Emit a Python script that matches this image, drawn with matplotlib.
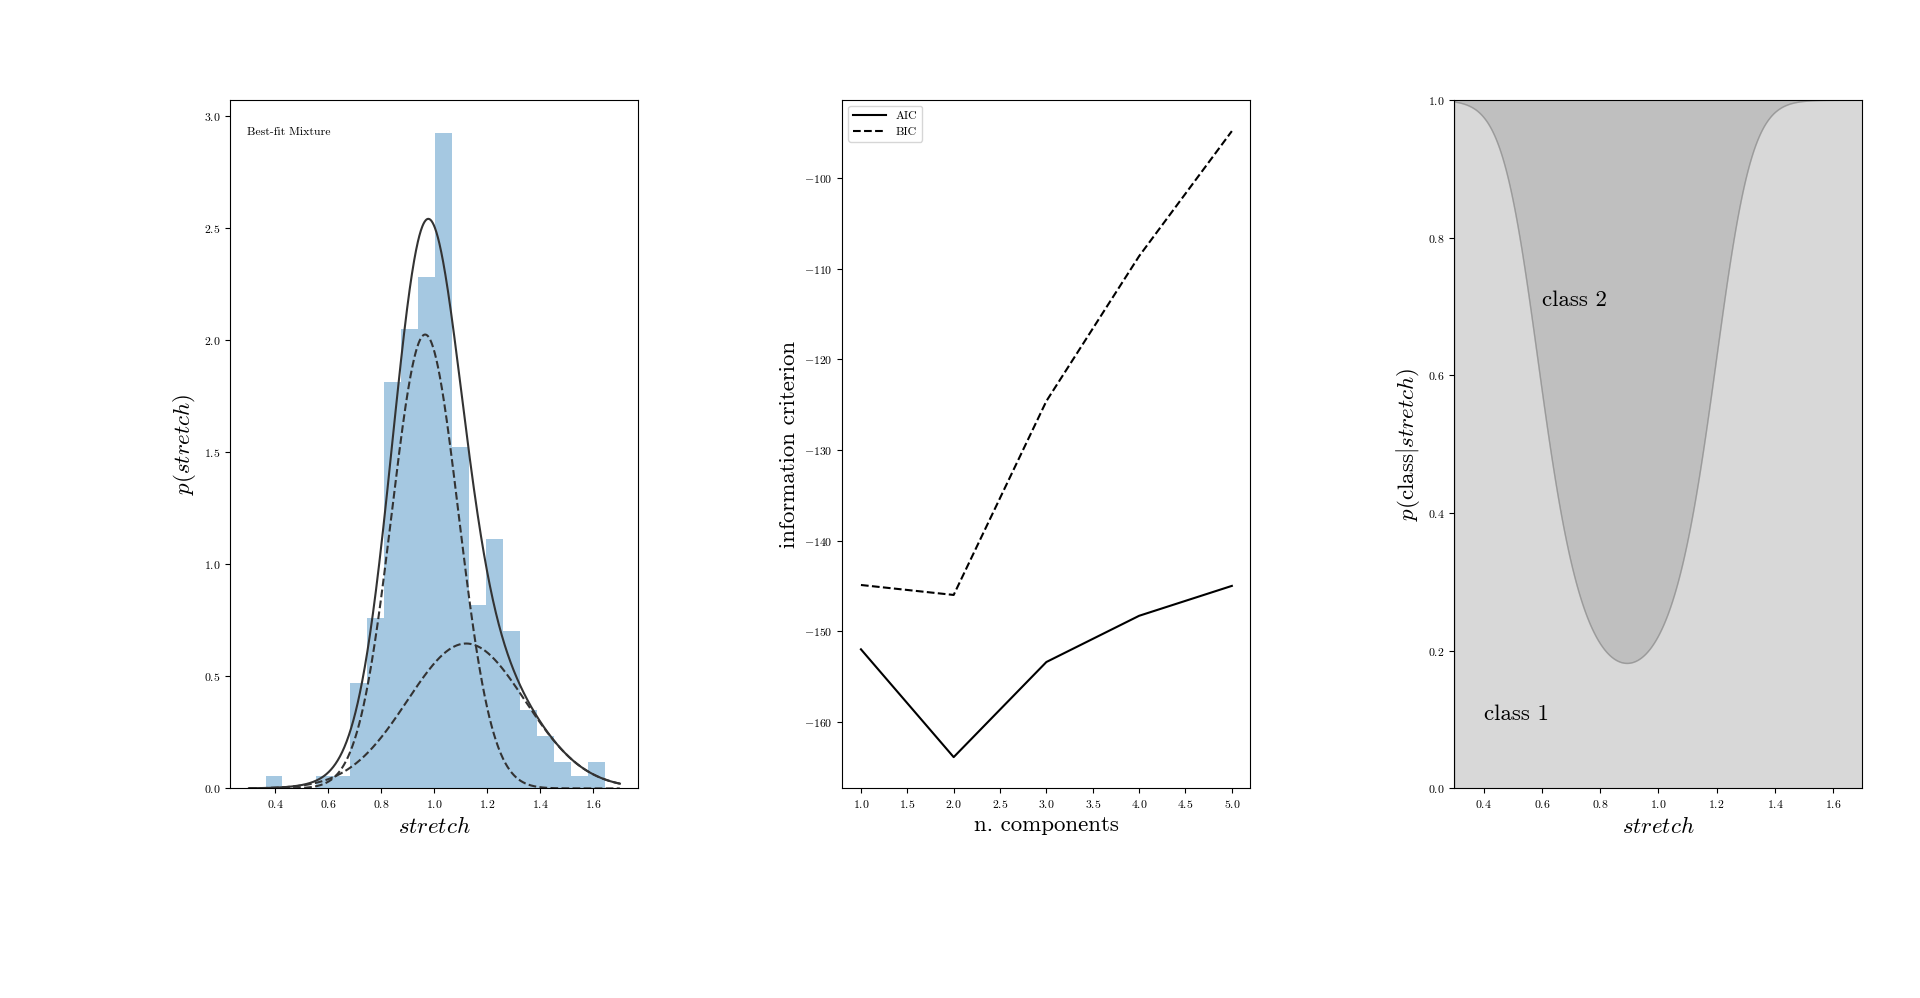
import numpy as np
import matplotlib
matplotlib.use("Agg")
import matplotlib.pyplot as plt
from matplotlib.ticker import FormatStrFormatter

plt.rcParams["font.family"] = "serif"
plt.rcParams["font.serif"] = ["cmr10"]
plt.rcParams["mathtext.fontset"] = "cm"
plt.rcParams["axes.unicode_minus"] = False
plt.rcParams["axes.formatter.use_mathtext"] = True

# histogram of stretch values (density)
bin_edges = np.linspace(0.3625, 1.644, 21)
hist_density = [0.057, 0.0, 0.0, 0.057, 0.057, 0.472, 0.759, 1.814, 2.052, 2.284,
                2.928, 1.524, 0.817, 1.112, 0.702, 0.349, 0.232, 0.117, 0.057, 0.117]

# best-fit two component gaussian mixture
comp_means = [1.12, 0.965]     # class 1 (broad), class 2 (narrow)
comp_sigmas = [0.222, 0.126]
comp_weights = [0.36, 0.64]

# information criteria vs number of components
n_components = [1, 2, 3, 4, 5]
aic = [-152.0, -163.9, -153.4, -148.3, -145.0]
bic = [-144.9, -146.0, -124.6, -108.6, -94.8]

tick_size = 8.5
label_size = 16.5

x = np.linspace(0.3, 1.7, 1000)
pdf_individual = np.array([w / (np.sqrt(2 * np.pi) * s) * np.exp(-0.5 * ((x - m) / s) ** 2)
                           for m, s, w in zip(comp_means, comp_sigmas, comp_weights)])
pdf = pdf_individual.sum(0)

fig = plt.figure(figsize=(19.2, 9.98), dpi=100)
fig.subplots_adjust(left=0.12, right=0.97, bottom=0.21, top=0.9, wspace=0.5)

# panel 1: data and best-fit mixture
ax = fig.add_subplot(131)
ax.hist(bin_edges[:-1], bins=bin_edges, weights=hist_density,
        histtype='stepfilled', alpha=0.4)
ax.plot(x, pdf, '-', color='0.2', lw=1.5)
ax.plot(x, pdf_individual.T, '--', color='0.2', lw=1.5)
ax.text(0.04, 0.96, "Best-fit Mixture", ha='left', va='top',
        transform=ax.transAxes, fontsize=tick_size)
ax.set_xlabel('$stretch$', fontsize=label_size)
ax.set_ylabel('$p(stretch)$', fontsize=label_size)
ax.xaxis.set_major_formatter(FormatStrFormatter('$%.1f$'))
ax.yaxis.set_major_formatter(FormatStrFormatter('$%.1f$'))
ax.tick_params(labelsize=tick_size)

# panel 2: AIC and BIC
ax = fig.add_subplot(132)
ax.plot(n_components, aic, '-k', lw=1.5, label='AIC')
ax.plot(n_components, bic, '--k', lw=1.5, label='BIC')
ax.legend(loc=2, fontsize=tick_size, handlelength=2.8)
ax.set_xlabel('n. components', fontsize=label_size)
ax.set_ylabel('information criterion', fontsize=label_size)
ax.xaxis.set_major_formatter(FormatStrFormatter('$%.1f$'))
ax.yaxis.set_major_formatter(FormatStrFormatter('$%d$'))
ax.tick_params(labelsize=tick_size)

# panel 3: class probabilities
ax = fig.add_subplot(133)
p = pdf_individual / pdf
p = p.cumsum(0)
ax.fill_between(x, 0, p[0], color='gray', alpha=0.3)
ax.fill_between(x, p[0], p[1], color='gray', alpha=0.5)
ax.set_xlim(0.3, 1.7)
ax.set_ylim(0, 1)
ax.text(0.4, 0.1, 'class 1', fontsize=label_size)
ax.text(0.6, 0.7, 'class 2', fontsize=label_size)
ax.set_xlabel('$stretch$', fontsize=label_size)
ax.set_ylabel(r'$p({\rm class}|stretch)$', fontsize=label_size)
ax.xaxis.set_major_formatter(FormatStrFormatter('$%.1f$'))
ax.yaxis.set_major_formatter(FormatStrFormatter('$%.1f$'))
ax.tick_params(labelsize=tick_size)

fig.savefig('out.png', dpi=100)
